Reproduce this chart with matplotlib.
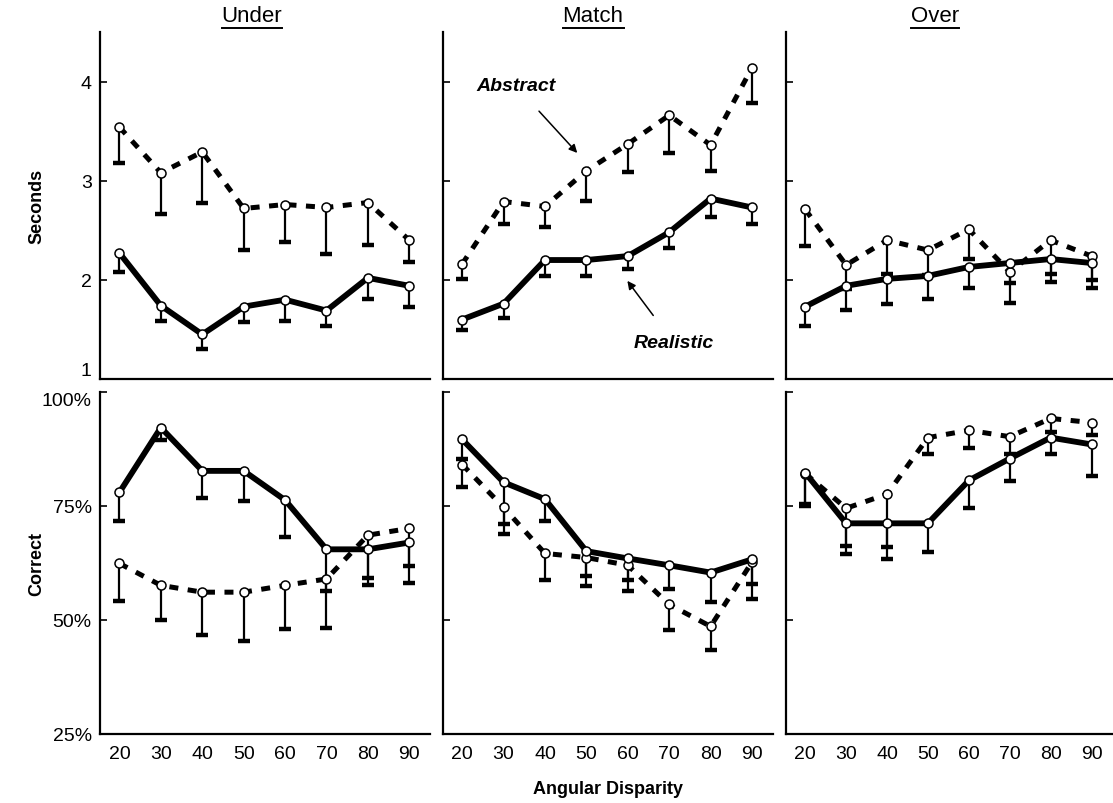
import numpy as np
import matplotlib
matplotlib.use('Agg')
from matplotlib import pyplot as plt
from matplotlib.lines import Line2D

plt.rcParams['font.family'] = ['Liberation Sans', 'DejaVu Sans']

angles = [20, 30, 40, 50, 60, 70, 80, 90]
panels = ['Under', 'Match', 'Over']

# response time (seconds): means and lower error-bar ends
sec_real = {
    'Under': [2.27, 1.74, 1.45, 1.73, 1.80, 1.69, 2.02, 1.94],
    'Match': [1.60, 1.76, 2.20, 2.20, 2.24, 2.48, 2.82, 2.73],
    'Over': [1.73, 1.94, 2.01, 2.04, 2.13, 2.17, 2.21, 2.17],
}
sec_real_low = {
    'Under': [2.08, 1.59, 1.30, 1.57, 1.59, 1.53, 1.81, 1.73],
    'Match': [1.49, 1.62, 2.04, 2.04, 2.11, 2.32, 2.63, 2.56],
    'Over': [1.53, 1.70, 1.76, 1.81, 1.92, 1.77, 1.98, 1.92],
}
sec_abs = {
    'Under': [3.54, 3.08, 3.29, 2.72, 2.76, 2.73, 2.78, 2.40],
    'Match': [2.16, 2.79, 2.74, 3.10, 3.37, 3.66, 3.36, 4.14],
    'Over': [2.71, 2.15, 2.40, 2.30, 2.51, 2.08, 2.40, 2.24],
}
sec_abs_low = {
    'Under': [3.18, 2.66, 2.78, 2.30, 2.38, 2.26, 2.35, 2.18],
    'Match': [2.01, 2.56, 2.53, 2.80, 3.09, 3.28, 3.10, 3.78],
    'Over': [2.34, 1.91, 2.06, 2.05, 2.21, 1.97, 2.06, 2.00],
}

# percent correct: means and lower error-bar ends
pc_real = {
    'Under': [78.0, 92.2, 82.7, 82.7, 76.3, 65.5, 65.5, 67.0],
    'Match': [89.6, 80.2, 76.5, 65.1, 63.5, 62.0, 60.4, 63.3],
    'Over': [82.3, 71.2, 71.2, 71.2, 80.6, 85.4, 90.0, 88.5],
}
pc_real_low = {
    'Under': [71.8, 89.4, 76.8, 76.0, 68.3, 56.3, 59.3, 61.8],
    'Match': [85.4, 68.8, 71.8, 59.6, 58.7, 56.7, 53.9, 54.7],
    'Over': [74.9, 64.4, 66.0, 64.9, 74.5, 80.4, 86.5, 81.6],
}
pc_abs = {
    'Under': [62.4, 57.6, 56.1, 56.1, 57.6, 59.0, 68.6, 70.1],
    'Match': [84.1, 74.7, 64.6, 63.7, 62.0, 53.4, 48.6, 62.7],
    'Over': [82.1, 74.5, 77.6, 90.0, 91.6, 90.2, 94.2, 93.3],
}
pc_abs_low = {
    'Under': [54.1, 50.1, 46.7, 45.5, 48.0, 48.2, 57.6, 58.2],
    'Match': [79.1, 71.0, 58.7, 57.4, 56.3, 47.8, 43.4, 58.0],
    'Over': [75.4, 66.2, 63.3, 86.5, 87.7, 86.5, 91.3, 90.5],
}

W, H = 1113, 804
fig = plt.figure(figsize=(W / 100, H / 100), dpi=100)

lefts = [100, 442.7, 786]
widths = [330, 330, 326]
rows = [(33, 380), (393, 735)]


def px_rect(x0, y0, x1, y1):
    return [x0 / W, 1 - y1 / H, (x1 - x0) / W, (y1 - y0) / H]


def draw_series(ax, vals, lows, dashed):
    ax.vlines(angles, lows, vals, color='black', lw=1.6, zorder=2)
    ax.plot(angles, lows, ls='none', marker='_', ms=8, mew=3.2, color='black', zorder=2)
    if dashed:
        ax.plot(angles, vals, color='black', lw=3.6, ls=(0, (1.8, 1.9)), zorder=3)
    else:
        ax.plot(angles, vals, color='black', lw=4.2, zorder=3)
    ax.plot(angles, vals, ls='none', marker='o', ms=6.5, mfc='white', mec='black',
            mew=1.1, zorder=4)


axes = {}
for r, (y0, y1) in enumerate(rows):
    for c, name in enumerate(panels):
        ax = fig.add_axes(px_rect(lefts[c], y0, lefts[c] + widths[c], y1))
        axes[(r, c)] = ax
        for s in ['top', 'right']:
            ax.spines[s].set_visible(False)
        ax.spines['left'].set_linewidth(1.6)
        ax.spines['bottom'].set_linewidth(1.6)
        ax.set_xlim(15.3, 95)
        if r == 0:
            draw_series(ax, sec_abs[name], sec_abs_low[name], True)
            draw_series(ax, sec_real[name], sec_real_low[name], False)
            ax.set_ylim(1, 4.5)
            ax.set_yticks([1, 2, 3, 4])
            ax.set_xticks([])
            if c == 0:
                ax.set_yticklabels(['1', '2', '3', '4'], fontsize=14)
            else:
                ax.set_yticklabels([])
        else:
            draw_series(ax, pc_abs[name], pc_abs_low[name], True)
            draw_series(ax, pc_real[name], pc_real_low[name], False)
            ax.set_ylim(25, 100)
            ax.set_yticks([25, 50, 75, 100])
            if c == 0:
                ax.set_yticklabels(['25%', '50%', '75%', '100%'], fontsize=14)
            else:
                ax.set_yticklabels([])
            ax.set_xticks(angles)
            ax.set_xticklabels([str(a) for a in angles], fontsize=14)
            ax.tick_params(axis='x', length=0, pad=8)
        ax.tick_params(axis='y', direction='in', length=5, width=1.2, pad=6)

# keep "1" and "100%" apart, as in the scan
axes[(0, 0)].get_yticklabels()[0].set_va('bottom')
axes[(1, 0)].get_yticklabels()[-1].set_va('top')

axes[(0, 0)].set_ylabel('Seconds', fontsize=13, fontweight='bold')
axes[(1, 0)].set_ylabel('Correct', fontsize=13, fontweight='bold')
axes[(0, 0)].yaxis.set_label_coords(-0.165, 0.5)
axes[(1, 0)].yaxis.set_label_coords(-0.165, 0.5)

fig.text(608 / W, 1 - 790 / H, 'Angular Disparity', ha='center', va='center',
         fontsize=13, fontweight='bold')

# panel titles, underlined
title_x = [252, 593, 935]
titles = []
for name, tx in zip(panels, title_x):
    t = fig.text(tx / W, 1 - 17 / H, name, ha='center', va='center', fontsize=16)
    titles.append(t)
fig.canvas.draw()
rend = fig.canvas.get_renderer()
for t in titles:
    bb = t.get_window_extent(rend)
    yl = bb.y0 - 1
    fig.add_artist(Line2D([bb.x0 / W, bb.x1 / W], [yl / H, yl / H], color='black',
                          lw=1.4, transform=fig.transFigure))

# annotations in the Match panel
axm = axes[(0, 1)]
axm.annotate('Abstract', xy=(47.8, 3.28), xytext=(32.9, 3.96), ha='center', va='center',
             fontsize=14, fontweight='bold', fontstyle='italic',
             arrowprops=dict(arrowstyle='-|>', color='black', lw=1.1, shrinkA=14,
                             shrinkB=0, mutation_scale=12))
axm.annotate('Realistic', xy=(59.9, 1.99), xytext=(71.0, 1.37), ha='center', va='center',
             fontsize=14, fontweight='bold', fontstyle='italic',
             arrowprops=dict(arrowstyle='-|>', color='black', lw=1.1, shrinkA=14,
                             shrinkB=0, mutation_scale=12))

fig.savefig('out.png', dpi=100)
